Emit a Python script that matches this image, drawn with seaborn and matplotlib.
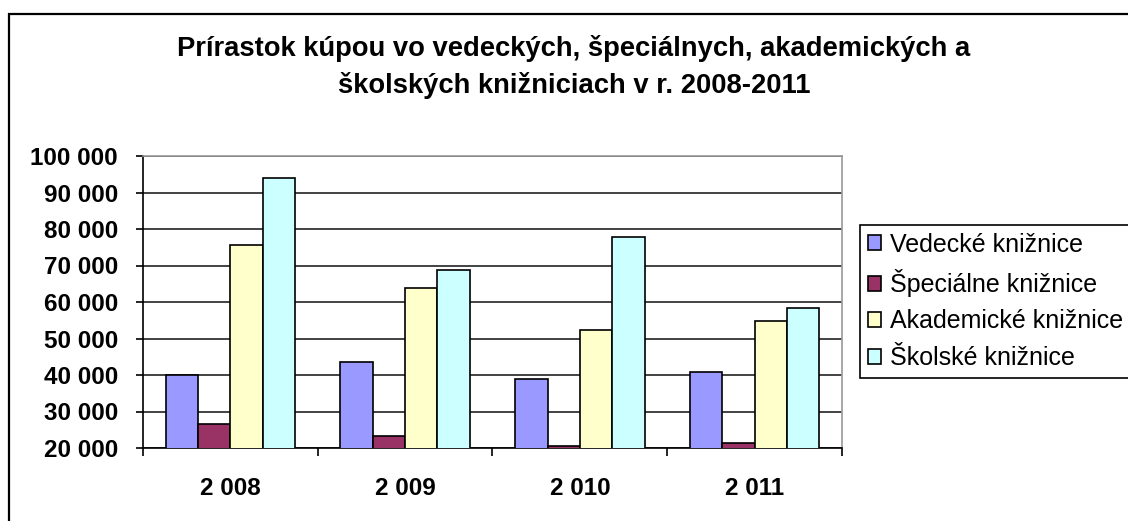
import pandas as pd
import matplotlib.pyplot as plt
import seaborn as sns
from matplotlib.patches import Rectangle
from matplotlib.ticker import FuncFormatter, FixedLocator

# ==============================
# Data
# ==============================
years = ["2 008", "2 009", "2 010", "2 011"]
library_types = ["Vedecké knižnice", "Špeciálne knižnice",
                 "Akademické knižnice", "Školské knižnice"]
vedecke = [40000, 43600, 39000, 40800]
specialne = [26700, 23200, 20500, 21300]
akademicke = [75600, 63900, 52400, 54700]
skolske = [94100, 68900, 77900, 58400]
colors = ["#9999FF", "#993366", "#FFFFCC", "#CCFFFF"]

df = pd.DataFrame({
    "rok": years * 4,
    "typ": [t for t in library_types for _ in years],
    "hodnota": vedecke + specialne + akademicke + skolske,
})

# ==============================
# Plot
# ==============================
sns.set_style("white")
plt.rcParams["font.family"] = ["Liberation Sans", "DejaVu Sans"]
plt.rcParams["text.color"] = "black"
plt.rcParams["xtick.color"] = "black"
plt.rcParams["ytick.color"] = "black"

fig = plt.figure(figsize=(11.28, 5.21), dpi=100)
ax = fig.add_axes([143 / 1128, 1 - 448 / 521, 699 / 1128, 292 / 521])

sns.barplot(data=df, x="rok", y="hodnota", hue="typ", hue_order=library_types,
            palette=colors, width=0.74, edgecolor="black", linewidth=1.2,
            saturation=1, ax=ax, legend=True, zorder=3)

ax.set_ylim(20000, 100000)
ax.set_xlim(-0.5, len(years) - 0.5)
ax.set_yticks(range(20000, 100001, 10000))
ax.yaxis.set_major_formatter(FuncFormatter(lambda v, p: f"{int(v):,}".replace(",", " ")))
ax.grid(axis="y", color="#222222", linewidth=1.2, zorder=0)
ax.set_axisbelow(True)
ax.set_xlabel("")
ax.set_ylabel("")

for side in ["top", "right"]:
    ax.spines[side].set_color("#999999")
    ax.spines[side].set_linewidth(1.2)
for side in ["left", "bottom"]:
    ax.spines[side].set_color("black")
    ax.spines[side].set_linewidth(1.2)

ax.tick_params(axis="y", which="major", left=True, length=5, width=1.2,
               pad=13, labelsize=17.5, labelcolor="black")
ax.tick_params(axis="x", which="major", length=0, pad=21, labelsize=17.5,
               labelcolor="black")
ax.xaxis.set_minor_locator(FixedLocator([i - 0.5 for i in range(len(years) + 1)]))
ax.tick_params(axis="x", which="minor", bottom=True, length=6, width=1.2)
for lab in ax.get_xticklabels() + ax.get_yticklabels():
    lab.set_fontweight("bold")

ax.legend(loc="upper left", bbox_to_anchor=(860 / 1128, 1 - 225 / 521),
          bbox_transform=fig.transFigure, fontsize=18, frameon=True,
          fancybox=False, edgecolor="black", framealpha=1,
          handlelength=0.55, handleheight=0.55, handletextpad=0.35,
          labelspacing=0.5, borderpad=0.3, borderaxespad=0)
ax.get_legend().get_frame().set_linewidth(1.2)

fig.text(574 / 1128, 1 - 67 / 521,
         "Prírastok kúpou vo vedeckých, špeciálnych, akademických a\n"
         "školských knižniciach v r. 2008-2011",
         ha="center", va="center", fontsize=19.7, fontweight="bold",
         linespacing=1.45, color="black")

# outer chart frame
fig.patches.append(Rectangle((9 / 1128, -0.1), 1.2, 1.1 - 14 / 521,
                             transform=fig.transFigure, fill=False,
                             edgecolor="black", linewidth=1.6))

fig.savefig("out.png", dpi=100)
